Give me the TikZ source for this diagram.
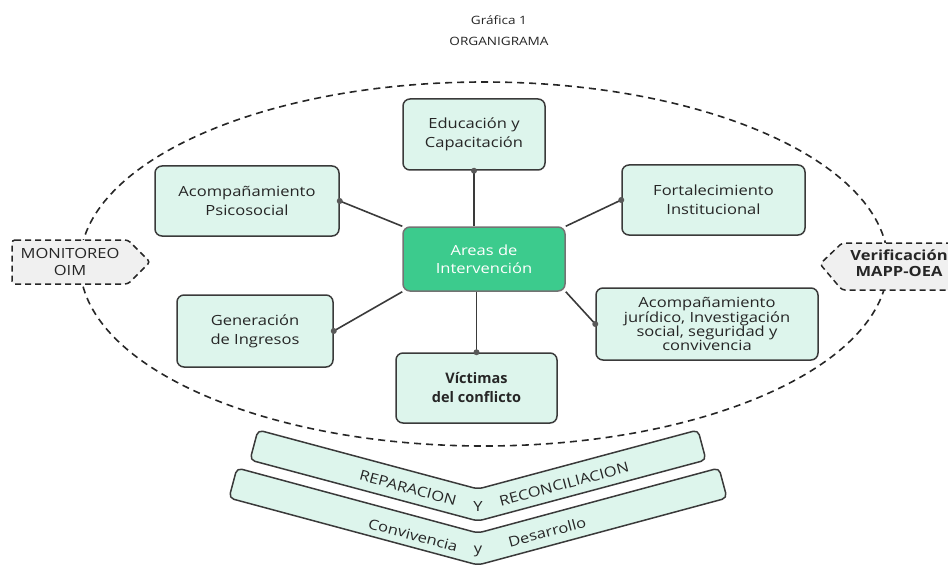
\documentclass[tikz,border=0pt]{standalone}
\usepackage{fontspec}
\setmainfont[FakeStretch=1.18]{Open Sans}
\newfontfamily\narrowsans{Open Sans}
\usetikzlibrary{positioning}

\definecolor{menta}{HTML}{DDF5EC}
\definecolor{verde}{HTML}{3CCB8D}
\definecolor{borde}{HTML}{3A3A3A}
\definecolor{grisclaro}{HTML}{F0F0F0}

\tikzset{
  area/.style={draw=borde, line width=1.5pt, fill=menta, rounded corners=7pt,
    align=center, text=black!85, font=\fontsize{14}{19}\selectfont},
  nucleo/.style={area, fill=verde, draw=black!55, text=white,
    font=\fontsize{14}{18}\selectfont},
  link/.style={every edge/.append style={draw=borde, line width=1.6pt}},
  dot/.style={circle, fill=black!65, inner sep=0pt, minimum size=6pt},
  contorno/.style={draw=black!85, line width=1.6pt, dash pattern=on 7pt off 5pt},
  lado/.style={draw=black!85, line width=1.5pt, dash pattern=on 6pt off 4pt,
    fill=grisclaro, rounded corners=3pt},
  ladotexto/.style={align=center, text=black!85},
  banda/.style={draw=borde, line width=1.5pt, fill=menta, rounded corners=5pt},
  lema/.style={text=black!85, inner sep=0pt, font=\fontsize{14}{14}\selectfont},
}

\begin{document}
\begin{tikzpicture}[x=1pt, y=-1pt]
\path[use as bounding box, clip] (0,0) rectangle (948,567);

\node[align=center, text=black!85, font=\fontsize{11.5}{21}\selectfont] (titulo) at (499,31) {Gráfica 1\\ORGANIGRAMA};

% contorno general
\draw[contorno] (484,264) ellipse [x radius=404, y radius=182];

% monitoreo y verificacion
\draw[lado] (12,240) -- (128,240) -- (150,262) -- (128,284) -- (12,284) -- cycle;
\node[ladotexto, font=\fontsize{14}{17}\selectfont] (monitoreo) at (70,262) {MONITOREO\\OIM};
\draw[lado] (965,243) -- (842,243) -- (820,264) -- (842,290) -- (965,290) -- cycle;
\node[ladotexto, font=\bfseries\fontsize{14}{16}\selectfont] (verificacion) at (899,263) {Verificación\\MAPP-OEA};

% bandas
\draw[banda] (258,430) -- (478,489) -- (698,430) -- (706,460) -- (478,521) -- (250,460) -- cycle;
\draw[banda] (237,468) -- (478,533) -- (719,468) -- (727,498) -- (478,565) -- (229,498) -- cycle;
\node[lema, rotate=-15] (reparacion) at (408,488) {REPARACION};
\node[lema] (y_1) at (478,506) {Y};
\node[lema, rotate=15] (reconciliacion) at (564,484) {RECONCILIACION};
\node[lema, rotate=-15] (convivencia) at (413,535) {Convivencia};
\node[lema] (y_2) at (478,551) {y};
\node[lema, rotate=15] (desarrollo) at (547,532) {Desarrollo};

% areas
\node[nucleo, minimum width=162pt, minimum height=64pt] (centro) at (484,259) {Areas de\\Intervención};
\node[area, minimum width=142pt, minimum height=71pt] (edu) at (474,134.5) {Educación y\\Capacitación};
\node[area, minimum width=184pt, minimum height=70pt] (psico) at (247,201) {Acompañamiento\\Psicosocial};
\node[area, minimum width=183pt, minimum height=70pt] (forta) at (713.5,200) {Fortalecimiento\\Institucional};
\node[area, minimum width=156pt, minimum height=72pt] (gen) at (255,331) {Generación\\de Ingresos};
\node[area, minimum width=161pt, minimum height=70pt, font=\narrowsans\bfseries\fontsize{14.5}{19}\selectfont] (vict) at (476.5,388) {Víctimas\\del conflicto};
\node[area, minimum width=222pt, minimum height=72pt, font=\fontsize{14}{14}\selectfont] (jur) at (707,324) {Acompañamiento\\jurídico, Investigación\\social, seguridad y\\convivencia};

\path[link]
    (centro.north -| edu.south) edge node[dot, pos=1] {} (edu.south)
    (centro.north west) edge node[dot, pos=1] {} (psico.east)
    (centro.north east) edge node[dot, pos=1] {} (forta.west)
    (centro.south west) edge node[dot, pos=1] {} (gen.east)
    (centro.south east) edge node[dot, pos=1] {} (jur.west)
    (centro.south -| vict.north) edge node[dot, pos=1] {} (vict.north);

\end{tikzpicture}
\end{document}
